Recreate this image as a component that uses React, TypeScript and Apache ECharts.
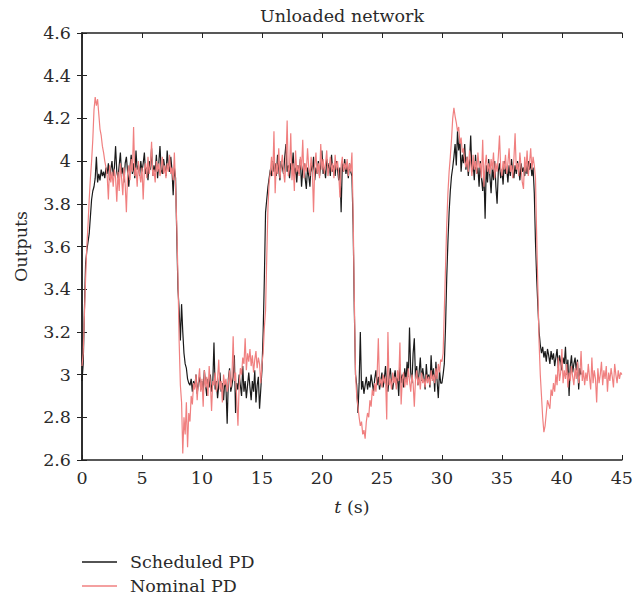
import React, { useEffect, useRef } from "react";
import * as echarts from "echarts";

const DT = 0.1;
const X_MIN = 0;
const X_MAX = 45;
const X_STEP = 5;
const Y_MIN = 2.6;
const Y_MAX = 4.6;
const Y_STEP = 0.2;

// Scheduled PD, sampled every 0.1 s from t = 0 (ends at t = 41.6, hidden beneath Nominal PD afterwards)
const scheduledPD = [
  2.97,3.05,3.30,3.52,3.58,3.62,3.66,3.74,3.82,3.86,
  3.88,3.92,4.02,3.90,3.94,3.91,3.96,3.93,3.95,3.92,
  3.97,3.94,3.99,3.91,3.96,4.00,3.93,3.97,4.07,3.95,
  3.92,3.98,4.04,3.94,3.97,3.90,3.99,4.02,3.95,3.88,
  3.97,4.03,3.94,3.99,3.92,4.05,3.96,3.98,3.93,4.00,
  3.95,3.99,4.04,3.94,3.97,3.91,4.00,3.96,4.06,3.93,
  3.98,3.95,4.03,3.92,3.99,4.07,3.96,3.94,4.01,3.97,
  3.93,4.05,3.98,3.95,4.02,3.96,3.84,3.97,3.92,3.65,
  3.40,3.30,3.16,3.33,3.20,3.10,3.05,3.03,2.98,2.96,
  2.95,2.98,2.92,2.97,2.94,3.00,2.91,2.96,2.99,2.93,
  2.97,2.92,3.02,2.95,2.90,2.98,2.94,3.00,2.92,2.96,
  3.15,2.93,2.97,2.89,2.95,3.01,2.92,2.96,2.88,2.97,
  2.94,2.77,2.98,3.03,2.92,2.95,2.99,3.09,2.82,2.96,
  2.93,3.00,2.95,2.90,3.04,2.92,2.97,2.89,2.95,3.01,
  2.94,2.88,2.97,2.92,3.02,2.87,2.95,2.99,2.84,2.93,
  3.02,3.20,3.45,3.76,3.82,3.88,3.92,3.96,3.93,4.00,
  3.95,3.99,3.93,4.03,3.96,3.91,4.00,3.97,3.94,4.02,
  4.08,3.95,3.98,3.92,3.99,3.96,4.04,3.93,3.97,3.90,
  3.98,3.94,4.01,3.88,3.96,3.99,3.92,3.87,3.97,3.93,
  3.88,3.99,3.95,4.02,3.91,3.97,3.94,4.00,3.93,3.98,
  4.05,3.94,3.97,3.92,4.01,3.96,3.99,3.93,4.03,3.95,
  3.98,3.93,4.00,3.96,3.91,3.97,3.76,3.99,3.95,4.01,
  3.94,3.98,3.92,3.99,3.95,3.93,3.70,3.30,3.00,2.95,
  2.82,2.96,3.20,2.93,2.97,2.91,2.95,2.99,2.93,2.97,
  2.94,3.00,2.96,2.92,2.98,3.02,2.95,2.99,2.93,2.97,
  3.01,2.94,2.98,3.04,2.95,2.92,2.99,3.03,2.96,2.93,
  2.98,3.02,2.95,2.99,2.90,3.05,2.96,3.00,2.94,3.03,
  2.97,3.06,2.99,3.22,3.01,2.96,3.10,3.17,2.98,3.04,
  2.95,3.01,3.08,2.97,3.03,2.99,2.93,3.05,2.97,3.00,
  2.94,3.09,2.98,3.03,2.92,3.06,2.97,2.89,3.02,2.96,
  2.96,3.00,3.05,3.22,3.45,3.62,3.76,3.86,3.93,3.97,
  4.02,4.08,3.98,4.14,4.05,4.10,3.95,4.03,3.99,4.08,
  3.96,4.02,3.93,4.00,4.12,3.95,3.99,3.91,4.03,3.94,
  3.97,3.88,4.00,3.92,3.86,3.95,3.73,3.98,3.90,4.01,
  3.93,3.85,3.97,3.91,4.00,3.88,3.80,3.95,3.99,3.92,
  3.96,3.89,4.00,3.94,3.97,3.90,3.98,3.93,4.01,3.95,
  3.92,3.98,3.94,4.00,3.96,3.91,3.99,3.95,3.97,3.93,
  3.98,3.94,4.00,3.96,3.99,3.93,3.97,3.85,3.62,3.45,
  3.32,3.20,3.14,3.10,3.13,3.08,3.11,3.06,3.12,3.09,
  3.05,3.11,3.07,3.10,3.04,3.08,3.12,3.03,3.09,3.06,
  3.02,3.08,3.05,3.13,3.00,3.07,2.90,3.04,3.09,3.01,
  3.05,3.08,3.02,3.07,2.93,3.03,3.00,
];

// Nominal PD, sampled every 0.1 s from t = 0 to t = 45
const nominalPD = [
  3.04,3.10,3.28,3.45,3.60,3.70,3.82,3.92,4.00,4.10,
  4.24,4.30,4.26,4.29,4.22,4.15,4.12,4.07,4.04,4.00,
  3.97,3.93,3.82,3.98,3.90,3.95,3.88,3.96,3.92,3.81,
  3.95,3.86,3.99,3.92,3.84,3.97,3.89,3.76,3.94,3.98,
  3.91,4.01,3.95,4.16,3.93,3.97,3.88,4.00,3.94,3.90,
  3.97,3.82,3.96,3.99,3.92,4.02,3.94,3.98,4.09,3.93,
  3.96,3.90,4.00,3.95,3.99,3.93,3.97,4.02,3.94,3.98,
  3.92,3.99,3.95,4.03,3.94,3.97,3.91,4.04,3.88,3.70,
  3.45,3.15,2.95,2.87,2.63,2.80,2.72,2.87,2.66,2.82,
  2.78,2.90,2.86,2.96,2.93,3.00,2.88,2.97,3.03,2.92,
  2.98,2.85,3.02,2.94,2.99,2.90,3.04,2.96,2.83,2.97,
  2.95,3.01,2.92,2.98,3.07,2.93,2.97,2.87,3.00,2.95,
  2.98,2.92,2.96,3.02,2.94,2.99,3.18,2.97,3.01,2.88,
  2.76,2.95,3.03,3.00,3.08,3.05,3.17,3.02,3.10,3.06,
  3.12,3.04,3.09,3.01,3.07,3.11,3.03,3.08,3.05,2.96,
  3.05,3.10,3.22,3.30,3.55,3.78,3.90,3.95,4.02,3.93,
  4.14,3.85,3.99,3.94,4.06,3.92,3.98,4.03,3.95,3.90,
  4.00,4.19,3.93,3.97,4.13,3.91,3.99,3.86,4.05,3.95,
  3.98,3.93,4.02,3.96,4.10,3.92,3.99,3.95,4.06,3.97,
  3.93,4.02,3.96,3.76,3.98,4.04,3.94,3.99,3.92,4.08,
  3.96,4.01,3.94,3.99,4.05,3.93,3.97,4.02,3.95,3.99,
  3.92,4.03,3.96,4.00,3.94,3.83,3.98,4.02,3.95,3.99,
  3.96,4.01,3.93,3.99,3.95,4.04,3.75,3.35,3.00,2.90,
  2.85,2.80,2.76,2.78,2.72,2.74,2.70,2.78,2.82,2.80,
  2.88,2.85,2.93,2.90,2.96,2.92,3.00,3.17,2.95,2.98,
  2.94,3.00,2.96,2.99,2.79,3.20,2.95,2.98,2.93,3.01,
  2.96,2.99,2.93,3.02,2.97,3.15,2.86,2.98,3.01,2.94,
  2.99,2.95,3.03,2.97,2.92,3.00,2.96,2.85,2.98,3.02,
  2.95,2.99,2.93,3.01,2.96,2.98,2.94,3.00,2.96,2.99,
  2.95,3.02,2.97,3.00,2.96,3.03,2.98,3.05,3.01,3.07,
  3.06,3.10,3.30,3.50,3.70,3.85,3.95,4.02,4.10,4.20,
  4.25,4.21,4.18,4.14,4.16,4.08,4.11,4.04,4.06,4.00,
  3.97,4.02,3.95,4.05,3.99,3.93,4.03,3.96,4.00,3.94,
  4.04,3.97,3.99,3.92,4.10,3.88,3.98,4.03,3.95,3.99,
  3.94,4.01,3.96,4.04,3.92,3.99,3.95,4.02,4.12,3.97,
  3.93,4.00,3.96,4.03,3.94,3.99,4.06,3.95,3.98,3.92,
  4.01,4.13,3.96,3.99,3.93,4.04,3.97,3.90,3.87,4.02,
  3.95,4.05,3.93,3.99,4.06,3.96,4.02,3.98,3.92,3.65,
  3.40,3.15,3.00,2.90,2.80,2.73,2.76,2.82,2.88,2.86,
  2.84,2.93,2.90,2.96,2.92,3.00,2.95,3.08,2.97,3.01,
  3.12,2.96,3.02,2.98,3.05,2.94,3.01,2.97,3.04,2.99,
  2.95,3.03,2.98,3.06,2.96,3.00,3.11,2.97,3.02,2.95,
  3.01,2.97,3.05,2.99,2.93,3.08,2.96,3.02,2.98,2.87,
  3.03,2.96,3.00,3.06,2.95,3.02,2.98,3.04,2.92,3.01,
  2.97,3.03,2.99,2.94,3.05,3.00,2.96,3.02,2.98,3.01,
  3.00,
];

const SERIES_NAMES = ["Scheduled PD", "Nominal PD"];
const TITLE = "Unloaded network";
const Y_NAME = "Outputs";

const FONT = "DejaVu Serif";
const FS = 17.5;
const AXIS_COLOR = "#222";
const TEXT_COLOR = "#2a2a2a";

function toPairs(values: number[]) {
  return values.map((v, i) => [Math.round(i * DT * 10) / 10, v]);
}

export default function App() {
  const ref = useRef<HTMLDivElement>(null);

  useEffect(() => {
    if (!ref.current) return;
    const chart = echarts.init(ref.current, null, { renderer: "svg" });
    const axisLine = { show: true, lineStyle: { color: AXIS_COLOR, width: 1.5 } };
    const tick = { show: true, inside: true, length: 5, lineStyle: { color: AXIS_COLOR, width: 1 } };
    const label = { fontFamily: FONT, fontSize: FS, color: TEXT_COLOR };
    chart.setOption({
      animation: false,
      backgroundColor: "#fff",
      title: {
        text: TITLE,
        left: 337,
        top: 2,
        textAlign: "center",
        textStyle: { fontFamily: FONT, fontSize: FS, fontWeight: "normal", color: TEXT_COLOR },
      },
      grid: { left: 82, right: 11, top: 33, bottom: 138, containLabel: false },
      legend: {
        orient: "vertical",
        left: 82,
        top: 553,
        padding: 0,
        icon: "rect",
        itemWidth: 35,
        itemHeight: 1.5,
        itemGap: 6,
        align: "left",
        data: SERIES_NAMES,
        textStyle: { fontFamily: FONT, fontSize: FS, color: TEXT_COLOR, padding: [0, 0, 0, 8], lineHeight: 18 },
      },
      xAxis: [
        {
          type: "value",
          min: X_MIN,
          max: X_MAX,
          interval: X_STEP,
          position: "bottom",
          axisLine,
          axisTick: tick,
          axisLabel: { ...label, margin: 9 },
          splitLine: { show: false },
          name: "{i|t} (s)",
          nameLocation: "middle",
          nameGap: 38,
          nameTextStyle: {
            fontFamily: FONT,
            fontSize: FS,
            color: TEXT_COLOR,
            rich: { i: { fontStyle: "italic", fontFamily: FONT, fontSize: FS, color: TEXT_COLOR } },
          },
        },
        {
          type: "value",
          min: X_MIN,
          max: X_MAX,
          interval: X_STEP,
          position: "top",
          axisLine,
          axisTick: tick,
          axisLabel: { show: false },
          splitLine: { show: false },
        },
      ],
      yAxis: [
        {
          type: "value",
          min: Y_MIN,
          max: Y_MAX,
          interval: Y_STEP,
          position: "left",
          axisLine,
          axisTick: tick,
          axisLabel: { ...label, margin: 11 },
          splitLine: { show: false },
          name: Y_NAME,
          nameLocation: "middle",
          nameGap: 52,
          nameRotate: 90,
          nameTextStyle: { fontFamily: FONT, fontSize: FS, color: TEXT_COLOR },
        },
        {
          type: "value",
          min: Y_MIN,
          max: Y_MAX,
          interval: Y_STEP,
          position: "right",
          axisLine,
          axisTick: tick,
          axisLabel: { show: false },
          splitLine: { show: false },
        },
      ],
      series: [
        {
          name: SERIES_NAMES[0],
          type: "line",
          xAxisIndex: 0,
          yAxisIndex: 0,
          data: toPairs(scheduledPD),
          showSymbol: false,
          symbol: "none",
          lineStyle: { color: "#1a1a1a", width: 1.2 },
          itemStyle: { color: "#1a1a1a" },
        },
        {
          name: SERIES_NAMES[1],
          type: "line",
          xAxisIndex: 0,
          yAxisIndex: 0,
          data: toPairs(nominalPD),
          showSymbol: false,
          symbol: "none",
          lineStyle: { color: "#f08080", width: 1.2 },
          itemStyle: { color: "#f08080" },
        },
      ],
    });
    return () => chart.dispose();
  }, []);

  return (
    <div
      ref={ref}
      style={{ position: "fixed", left: 0, top: 0, width: 636, height: 598 }}
    />
  );
}
